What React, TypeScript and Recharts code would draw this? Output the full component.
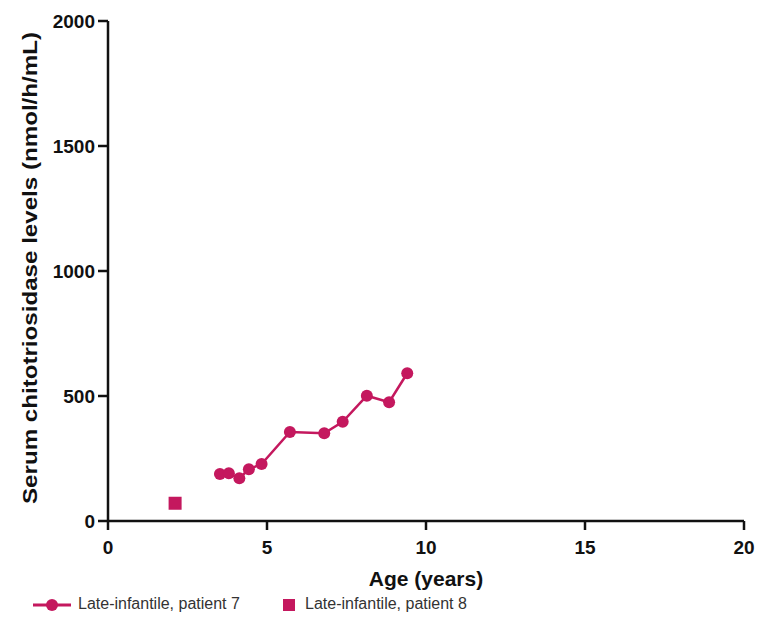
import React from "react";
import { ComposedChart, Line, XAxis, YAxis, Legend, Label } from "recharts";

const ageP7 = [3.52, 3.8, 4.13, 4.43, 4.83, 5.72, 6.8, 7.38, 8.14, 8.84, 9.41];
const chitoP7 = [188, 191, 171, 207, 228, 356, 351, 397, 501, 475, 591];
const ageP8 = [2.11];
const chitoP8 = [71];
const xTicks = [0, 5, 10, 15, 20];
const yTicks = [0, 500, 1000, 1500, 2000];
const seriesNames = ["Late-infantile, patient 7", "Late-infantile, patient 8"];

const COLOR = "#C4185E";
const FONT = "'Liberation Sans', Arial, sans-serif";

const dataP7 = ageP7.map((x, i) => ({ x, y: chitoP7[i] }));
const dataP8 = ageP8.map((x, i) => ({ x, y: chitoP8[i] }));

const SquareDot = (props: any) => {
  const { cx, cy } = props;
  if (cx == null || cy == null) return null;
  return <rect x={cx - 6.5} y={cy - 6.5} width={13} height={13} fill={COLOR} />;
};

const LegendContent = () => (
  <div style={{ position: "relative", height: 30, width: 750, fontFamily: FONT, fontSize: 16, color: "#333" }}>
    <svg style={{ position: "absolute", left: 24, top: 2 }} width={40} height={16}>
      <line x1={1} y1={8} x2={39} y2={8} stroke={COLOR} strokeWidth={3} />
      <circle cx={20} cy={8} r={6} fill={COLOR} />
    </svg>
    <span style={{ position: "absolute", left: 70, top: 0, whiteSpace: "nowrap" }}>{seriesNames[0]}</span>
    <svg style={{ position: "absolute", left: 274, top: 2 }} width={16} height={16}>
      <rect x={1} y={2} width={12} height={12} fill={COLOR} />
    </svg>
    <span style={{ position: "absolute", left: 297, top: 0, whiteSpace: "nowrap" }}>{seriesNames[1]}</span>
  </div>
);

const YLabel = (props: any) => {
  const vb = props.viewBox || {};
  const cx = 22;
  const cy = vb.y + vb.height / 2 - 3;
  return (
    <text
      x={cx}
      y={cy}
      transform={`rotate(-90, ${cx}, ${cy})`}
      textAnchor="middle"
      dominantBaseline="central"
      fontFamily={FONT}
      fontWeight="bold"
      fontSize={20}
      textLength={472}
      lengthAdjust="spacingAndGlyphs"
      fill="#111"
    >
      Serum chitotriosidase levels (nmol/h/mL)
    </text>
  );
};

export default function App() {
  return (
    <ComposedChart width={750} height={617} margin={{ top: 13, right: 14, left: 0, bottom: 0 }}>
      <XAxis
        type="number"
        dataKey="x"
        domain={[0, 20]}
        ticks={xTicks}
        allowDataOverflow
        height={74}
        stroke="#111"
        strokeWidth={2.5}
        tickSize={9}
        tickMargin={11}
        tick={{ fontFamily: FONT, fontWeight: "bold", fontSize: 19, fill: "#111" }}
        tickLine={{ stroke: "#111", strokeWidth: 2.5 }}
      >
        <Label
          value="Age (years)"
          position="insideBottom"
          offset={9}
          style={{ fontFamily: FONT, fontWeight: "bold", fontSize: 21, fill: "#111" }}
        />
      </XAxis>
      <YAxis
        type="number"
        dataKey="y"
        domain={[0, 2000]}
        ticks={yTicks}
        width={100}
        stroke="#111"
        strokeWidth={2.5}
        tickSize={10}
        tickMargin={3}
        tick={{ fontFamily: FONT, fontWeight: "bold", fontSize: 19, fill: "#111" }}
        tickLine={{ stroke: "#111", strokeWidth: 2.5 }}
        label={<YLabel />}
      />
      <Legend verticalAlign="bottom" align="left" height={30} content={<LegendContent />} wrapperStyle={{ left: 0 }} />
      <Line
        data={dataP7}
        dataKey="y"
        name={seriesNames[0]}
        stroke={COLOR}
        strokeWidth={2.5}
        dot={{ r: 6, fill: COLOR, stroke: COLOR, strokeWidth: 0 }}
        isAnimationActive={false}
      />
      <Line
        data={dataP8}
        dataKey="y"
        name={seriesNames[1]}
        stroke="none"
        dot={<SquareDot />}
        isAnimationActive={false}
      />
    </ComposedChart>
  );
}
